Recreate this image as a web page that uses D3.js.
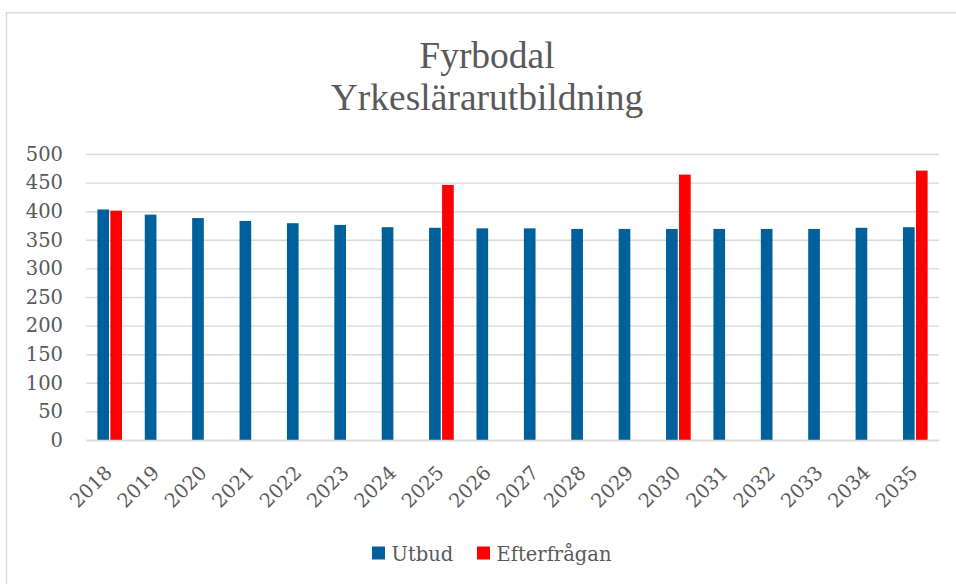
<!DOCTYPE html>
<html>
<head>
<meta charset="utf-8">
<script src="https://cdn.jsdelivr.net/npm/d3@7"></script>
<style>
  body { margin: 0; background: #fff; }
  svg { display: block; font-family: "DejaVu Serif", serif; }
</style>
</head>
<body>
<div id="chart"></div>
<script>
// data
const years = ["2018","2019","2020","2021","2022","2023","2024","2025","2026",
               "2027","2028","2029","2030","2031","2032","2033","2034","2035"];
const utbud = [403, 394, 388, 383, 379, 376, 372, 371, 370,
               370, 369, 369, 369, 369, 369, 369, 371, 372];
const efterfragan = [401, null, null, null, null, null, null, 446, null,
                     null, null, null, 464, null, null, null, null, 471];
const seriesNames = ["Utbud", "Efterfrågan"];
const seriesColors = ["#00609b", "#ff0000"];
const yTicks = [0, 50, 100, 150, 200, 250, 300, 350, 400, 450, 500];

let height = 584,
    width = 956,
    margin = ({ top: 154, right: 17, bottom: 144, left: 86 });

const svg = d3.select("#chart")
  .append("svg")
  .attr("width", width)
  .attr("height", height);

// chart frame (right and bottom edges fall outside the picture)
svg.append("rect")
  .attr("x", 6.5).attr("y", 12.75)
  .attr("width", 1200).attr("height", 1200)
  .attr("fill", "none")
  .attr("stroke", "#d9d9d9")
  .attr("stroke-width", 1.5);

const rows = years.map((y, i) => ({ year: y, values: [utbud[i], efterfragan[i]] }));

let x0 = d3.scaleBand()
  .domain(years)
  .range([margin.left, width - margin.right])
  .paddingInner(0.48)
  .paddingOuter(0.24);

let x1 = d3.scaleBand()
  .domain(seriesNames)
  .range([0, x0.bandwidth()])
  .paddingInner(0.1);

let y = d3.scaleLinear()
  .domain([0, 500])
  .range([height - margin.bottom, margin.top]);

let color = d3.scaleOrdinal().domain(seriesNames).range(seriesColors);

// gridlines + y labels
const yAxis = svg.append("g")
  .attr("class", "y-axis")
  .attr("transform", `translate(${margin.left},0)`)
  .call(d3.axisLeft(y).tickValues(yTicks).tickSize(-(width - margin.left - margin.right)).tickPadding(23));
yAxis.select(".domain").remove();
yAxis.selectAll(".tick line").attr("stroke", "#d9d9d9").attr("stroke-width", 1.4);
yAxis.selectAll(".tick text")
  .attr("fill", "#595959")
  .attr("font-size", 19.5)
  .attr("font-family", "DejaVu Serif, serif");

// bars
svg.append("g")
  .selectAll("g")
  .data(rows)
  .join("g")
  .attr("transform", d => `translate(${x0(d.year)},0)`)
  .selectAll("rect")
  .data(d => seriesNames.map((s, i) => ({ key: s, value: d.values[i] })).filter(v => v.value != null))
  .join("rect")
  .attr("x", d => x1(d.key))
  .attr("y", d => y(d.value))
  .attr("width", x1.bandwidth())
  .attr("height", d => y(0) - y(d.value))
  .attr("fill", d => color(d.key));

// x axis
const xAxis = svg.append("g")
  .attr("class", "x-axis")
  .attr("transform", `translate(0,${height - margin.bottom})`)
  .call(d3.axisBottom(x0).tickSize(0).tickSizeOuter(0));
xAxis.select(".domain").attr("stroke", "#d9d9d9").attr("stroke-width", 1.5);
xAxis.selectAll(".tick text")
  .attr("fill", "#595959")
  .attr("font-size", 19.5)
  .attr("font-family", "DejaVu Serif, serif")
  .attr("text-anchor", "end")
  .attr("y", 0)
  .attr("dy", 0)
  .attr("transform", "translate(3.5,34) rotate(-45)");

// title
const title = svg.append("text")
  .attr("text-anchor", "middle")
  .attr("fill", "#595959")
  .attr("font-family", "Liberation Serif, serif")
  .attr("font-size", 37.5);
title.append("tspan").attr("x", 487).attr("y", 68).text("Fyrbodal");
title.append("tspan").attr("x", 487).attr("y", 110).text("Yrkeslärarutbildning");

// legend
const legend = svg.append("g").attr("transform", "translate(372,546.5)");
const items = [{ key: "Utbud", dx: 0 }, { key: "Efterfrågan", dx: 105 }];
const li = legend.selectAll("g")
  .data(items)
  .join("g")
  .attr("transform", d => `translate(${d.dx},0)`);
li.append("rect")
  .attr("width", 13).attr("height", 13)
  .attr("fill", d => color(d.key));
li.append("text")
  .attr("x", 19.5).attr("y", 14)
  .attr("fill", "#595959")
  .attr("font-size", 19.5)
  .text(d => d.key);
</script>
</body>
</html>
